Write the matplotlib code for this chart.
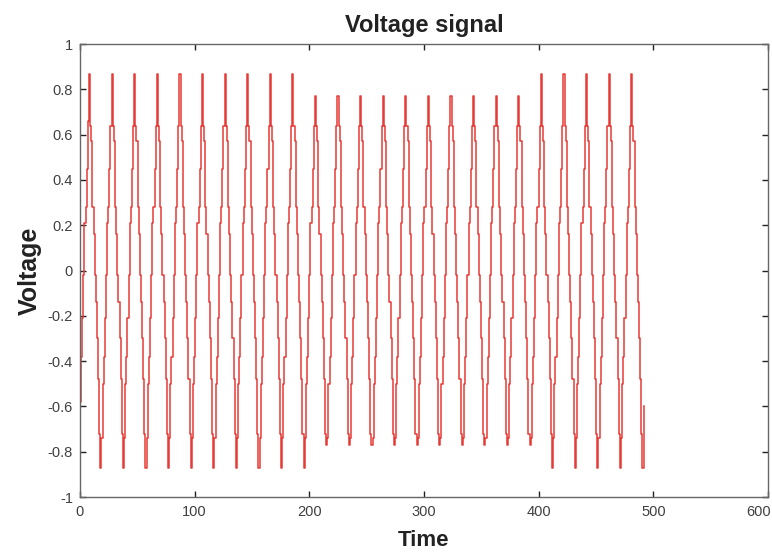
import numpy as np
import matplotlib
matplotlib.use("Agg")
import matplotlib.pyplot as plt
import matplotlib.transforms as mtransforms
from matplotlib.ticker import FuncFormatter

# ---- data ----
sample_interval = 0.985          # time units between samples
start_levels = [-0.58, -0.38, -0.21, -0.02, 0.21, 0.28, 0.45, 0.66]   # partial first rise
cycle_peaks = [0.87] * 10 + [0.77] * 10 + [0.87] * 5
cycle_troughs = [-0.87] * 10 + [-0.77] * 10 + [-0.87] * 5
fall_levels = [0.64, 0.57, 0.28, 0.16, -0.02, -0.14, -0.30, -0.48, -0.72]
rise_levels = [-0.74, -0.50, -0.38, -0.21, -0.02, 0.21, 0.28, 0.45, 0.64]
end_levels = [-0.60]

x_ticks = [0, 100, 200, 300, 400, 500, 600]
y_ticks = [-1, -0.8, -0.6, -0.4, -0.2, 0, 0.2, 0.4, 0.6, 0.8, 1]

# ---- assemble series ----
values = list(start_levels)
n_cycles = len(cycle_peaks)
for k in range(n_cycles):
    values.append(cycle_peaks[k])
    values.extend(fall_levels)
    values.append(cycle_troughs[k])
    if k < n_cycles - 1:
        values.extend(rise_levels)
values.extend(end_levels)
values = np.array(values)
t = np.arange(len(values)) * sample_interval

plt.rcParams['axes.unicode_minus'] = False
plt.rcParams['font.family'] = ['Liberation Sans', 'DejaVu Sans']

fig = plt.figure(figsize=(7.72, 5.58), dpi=100)
ax = fig.add_axes([0.1036, 0.1093, 0.9948 - 0.1036, 0.921 - 0.1093])

ax.plot(t, values, color='#e63a36', lw=1.1, drawstyle='steps-post')

ax.set_xlim(0, 600)
ax.set_ylim(-1, 1)
ax.set_xticks(x_ticks)
ax.set_yticks(y_ticks)
ax.yaxis.set_major_formatter(FuncFormatter(lambda v, p: '%g' % round(v, 1)))
ax.tick_params(direction='in', length=4, width=1, colors='#222222',
               labelcolor='#404040', labelsize=10.5, top=True, right=True)
ax.tick_params(axis='x', pad=6)
ax.tick_params(axis='y', pad=5)
for s in ax.spines.values():
    s.set_color('#666666')
    s.set_linewidth(1.0)

ax.set_title('Voltage signal', fontsize=17, fontweight='bold', color='#222222', pad=9)
ax.set_xlabel('Time', fontsize=16, fontweight='bold', color='#222222', labelpad=8)
ax.set_ylabel('Voltage', fontsize=18, fontweight='bold', color='#222222', labelpad=4)

fig.canvas.draw()
last = ax.get_xticklabels()[-1]
last.set_horizontalalignment('right')
last.set_transform(last.get_transform() +
                   mtransforms.ScaledTranslation(3 / 100, 0, fig.dpi_scale_trans))

fig.savefig('out.png', dpi=100)
